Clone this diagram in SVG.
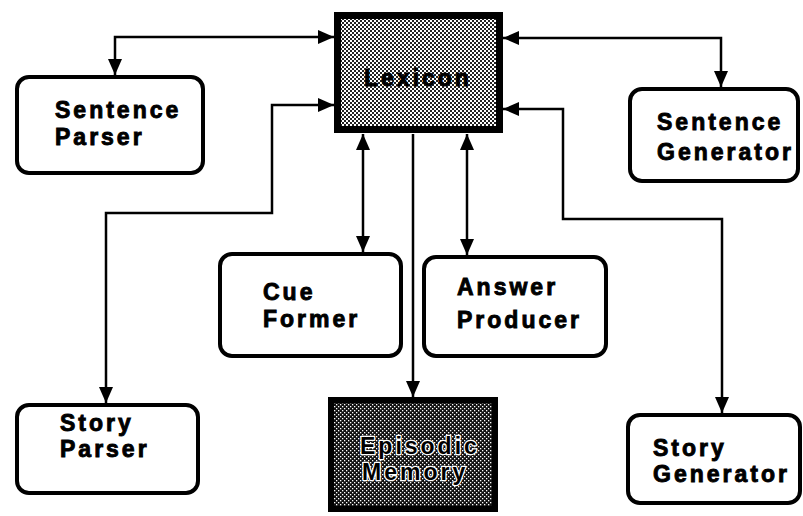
<svg xmlns="http://www.w3.org/2000/svg" width="803" height="516" viewBox="0 0 803 516">
  <defs>
    <!-- halftone screens for the shaded modules -->
    <pattern id="screenMid" width="4" height="4" patternUnits="userSpaceOnUse">
      <rect width="4" height="4" fill="#ffffff"/>
      <rect x="0" y="0" width="2" height="2" fill="#222222"/>
      <rect x="2" y="2" width="2" height="2" fill="#222222"/>
    </pattern>
    <pattern id="screenDark" width="4" height="4" patternUnits="userSpaceOnUse">
      <rect width="4" height="4" fill="#111111"/>
      <rect x="0" y="0" width="1.3" height="1.3" fill="#ffffff"/>
      <rect x="2" y="2" width="1.3" height="1.3" fill="#ffffff"/>
    </pattern>
    <marker id="head" markerUnits="userSpaceOnUse" markerWidth="16" markerHeight="14"
            refX="16" refY="7" orient="auto-start-reverse">
      <path d="M0,0 L16,7 L0,14 Z" fill="#000"/>
    </marker>
  </defs>

  <style>
    .module { fill: #ffffff; stroke: #000; stroke-width: 4; }
    .label { font-family: "Liberation Sans", Arial, Helvetica, sans-serif; font-weight: bold;
             font-size: 23px; letter-spacing: 3px; fill: #000; stroke: #000; stroke-width: 0.9; }
    .halo { stroke: #ffffff; stroke-width: 2.5; paint-order: stroke; stroke-linejoin: round; }
    .link { fill: none; stroke: #000; stroke-width: 2.5; }
    .both { marker-start: url(#head); marker-end: url(#head); }
    .one { marker-end: url(#head); }
  </style>

  <rect width="803" height="516" fill="#ffffff"/>

  <!-- connectors -->
  <g id="connectors">
    <path class="link both" d="M115,75 V37 H334"/>
    <path class="link both" d="M106,403 V213 H272 V105 H334"/>
    <path class="link both" d="M503,38 H721 V87"/>
    <path class="link both" d="M503,109 H563 V219 H722 V413"/>
    <path class="link both" d="M363,134 V252"/>
    <path class="link both" d="M467,134 V255"/>
    <path class="link one" d="M413,134 V397"/>
  </g>

  <g id="lexicon">
    <rect x="337.5" y="15.5" width="162" height="114" fill="url(#screenMid)" stroke="#000" stroke-width="7"/>
    <text class="label" x="364" y="86">Lexicon</text>
  </g>

  <g id="sentence-parser">
    <rect class="module" x="17" y="77" width="186" height="96" rx="12"/>
    <text class="label" x="55" y="118">Sentence</text>
    <text class="label" x="55" y="145">Parser</text>
  </g>

  <g id="sentence-generator">
    <rect class="module" x="630" y="89" width="168" height="92" rx="12"/>
    <text class="label" x="657" y="130">Sentence</text>
    <text class="label" x="657" y="160">Generator</text>
  </g>

  <g id="cue-former">
    <rect class="module" x="220" y="254" width="181" height="102" rx="12"/>
    <text class="label" x="263" y="300">Cue</text>
    <text class="label" x="263" y="327">Former</text>
  </g>

  <g id="answer-producer">
    <rect class="module" x="424" y="257" width="182" height="99" rx="12"/>
    <text class="label" x="457" y="295">Answer</text>
    <text class="label" x="457" y="328">Producer</text>
  </g>

  <g id="story-parser">
    <rect class="module" x="17" y="405" width="181" height="88" rx="12"/>
    <text class="label" x="60" y="431">Story</text>
    <text class="label" x="60" y="457">Parser</text>
  </g>

  <g id="episodic-memory">
    <rect x="331" y="400" width="164" height="109" fill="url(#screenDark)" stroke="#000" stroke-width="6"/>
    <text class="label halo" x="360" y="454">Episodic</text>
    <text class="label halo" x="362" y="480">Memory</text>
  </g>

  <g id="story-generator">
    <rect class="module" x="628" y="415" width="172" height="88" rx="12"/>
    <text class="label" x="653" y="456">Story</text>
    <text class="label" x="653" y="482">Generator</text>
  </g>
</svg>
